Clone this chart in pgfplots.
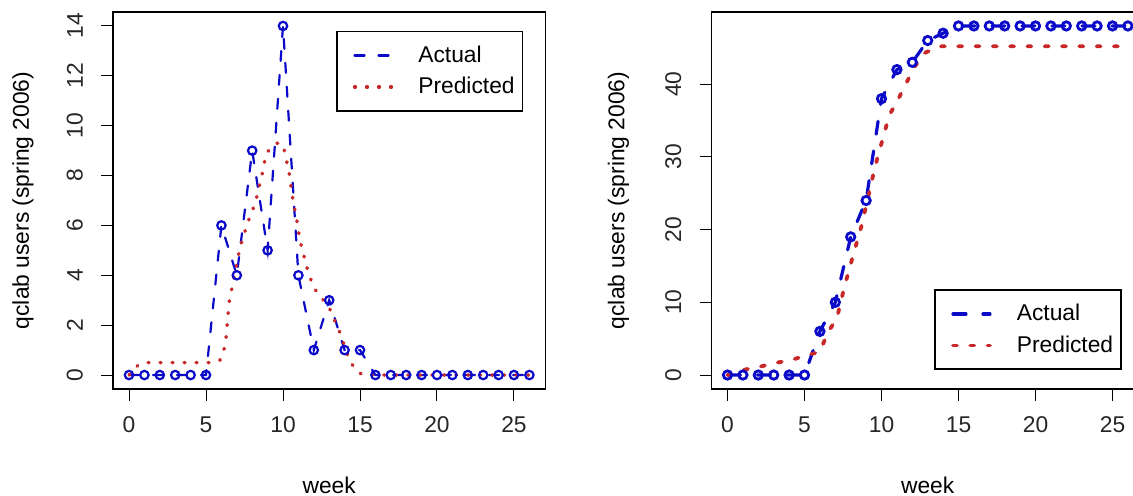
\documentclass[border=0pt]{standalone}
\usepackage{fontspec}
\setmainfont{Liberation Sans}
\usepackage{pgfplots}
\pgfplotsset{compat=1.18}
\definecolor{rblue}{RGB}{10,10,200}
\definecolor{rred}{RGB}{200,40,40}
\newcommand\rfont{\fontsize{11.4}{13.7}\selectfont}
\pgfplotsset{rstyle/.style={
    scale only axis, width=216.2pt, height=188.5pt, anchor=south west,
    axis line style={line width=0.75pt},
    tick style={line width=0.5pt, black},
    tick align=outside, major tick length=6pt,
    xtick pos=bottom, ytick pos=left,
    xmin=-1.04, xmax=27.04, xtick={0,5,...,25},
    every tick label/.append style={font=\rfont, text=black!85},
    /pgf/number format/assume math mode=true,
    xticklabel shift=4.5pt,
    yticklabel shift=5.5pt,
    yticklabel style={rotate=90, anchor=south},
    label style={font=\rfont},
    xlabel={week}, ylabel={qclab users (spring 2006)},
    xlabel style={at={(axis description cs:0.5,-0.2546)}, anchor=center},
    legend cell align=left,
    legend style={draw=black, line width=0.75pt,
      inner xsep=4pt, inner ysep=5pt, row sep=2pt, font=\rfont,
      nodes={inner xsep=0pt, inner ysep=2pt},
      /tikz/every odd column/.append style={column sep=12.5pt}},
    legend image code/.code={\path (0pt,0pt); \draw[##1] (4pt,0pt) -- (22.5pt,0pt);},
  }}
\begin{document}
\begin{tikzpicture}
  \path[use as bounding box] (0,0) rectangle (566.5pt,248pt);
  \clip (0,0) rectangle (566.5pt,248pt);
  % weekly users
  \begin{axis}[rstyle, at={(56.5pt,53.5pt)},
      ymin=-0.56, ymax=14.56, ytick={0,2,...,14},
      ylabel style={at={(axis description cs:-0.208,0.5)}, anchor=center},
      legend style={at={(axis description cs:1,1)}, xshift=-11pt, yshift=-9.5pt, anchor=north east}]
    \addplot[rblue, line width=1.1pt, line cap=round, dash pattern=on 5pt off 7pt,
      mark=o, mark size=2.1pt, mark options={solid, line width=1.1pt}]
      coordinates {
        (0,0) (1,0) (2,0) (3,0) (4,0) (5,0) (6,6) (7,4) (8,9) (9,5)
        (10,14) (11,4) (12,1) (13,3) (14,1) (15,1) (16,0) (17,0) (18,0)
        (19,0) (20,0) (21,0) (22,0) (23,0) (24,0) (25,0) (26,0)
      };
    \addlegendentry{Actual}
    \addplot[rred, line width=1.75pt, line cap=round, dash pattern=on 0.4pt off 5.6pt]
      coordinates {
        (0,0) (0.6,0.4) (1,0.5) (5.5,0.5) (5.9,0.6) (6.1,0.8) (6.3,1.5)
        (6.5,2.9) (6.75,3.7) (7.2,5.1) (7.7,6.1) (8.2,6.9) (8.7,8.2)
        (8.9,8.9) (9.6,9.3) (10,9.25) (10.4,8.1) (10.65,7) (10.9,6.2)
        (11.1,5.4) (11.6,4.2) (12,3.5) (13,2.7) (13.7,1.7) (14.3,0.6)
        (14.8,0.15) (15.2,0) (26,0)
      };
    \addlegendentry{Predicted}
  \end{axis}
  % cumulative users
  \begin{axis}[rstyle, at={(355.75pt,53.5pt)},
      ymin=-1.92, ymax=49.92, ytick={0,10,...,40},
      ylabel style={at={(axis description cs:-0.215,0.5)}, anchor=center},
      legend style={at={(axis description cs:1,0)}, xshift=-11pt, yshift=9.5pt, anchor=south east}]
    \addplot[rblue, line width=1.6pt, line cap=round, dash pattern=on 6.5pt off 8.5pt,
      mark=o, mark size=2.1pt, mark options={solid, line width=1.4pt}]
      coordinates {
        (0,0) (1,0) (2,0) (3,0) (4,0) (5,0) (6,6) (7,10) (8,19) (9,24)
        (10,38) (11,42) (12,43) (13,46) (14,47) (15,48) (16,48) (17,48)
        (18,48) (19,48) (20,48) (21,48) (22,48) (23,48) (24,48) (25,48) (26,48)
      };
    \addlegendentry{Actual}
    \addplot[rred, line width=1.9pt, line cap=round, dash pattern=on 2pt off 6.65pt]
      coordinates {
        (0,0) (1,0.7) (2.1,1.15) (3.2,1.7) (4.2,2.1) (5.1,2.7) (6,3.2)
        (6.5,5.8) (7.1,7.8) (7.6,12.2) (8.2,16.8) (8.7,20.5) (9.1,24.2)
        (9.6,28.8) (9.9,31.1) (10.2,33.4) (10.5,35.7) (11.1,38.0)
        (12.1,42.2) (12.7,44.2) (13.8,45.2) (26,45.2)
      };
    \addlegendentry{Predicted}
  \end{axis}
\end{tikzpicture}
\end{document}
